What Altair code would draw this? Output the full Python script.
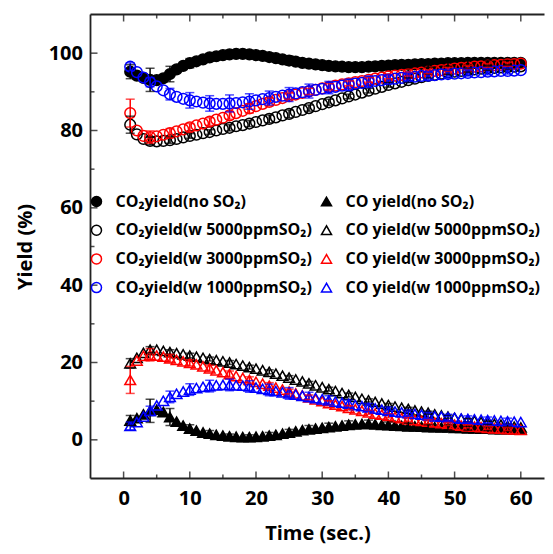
import altair as alt
import pandas as pd

# ---------------- data ----------------
time = list(range(1, 61))
err_time = list(range(1, 61, 3))  # 1, 4, 7, ..., 58

co2_names = ["CO₂yield(no SO₂)", "CO₂yield(w 5000ppmSO₂)", "CO₂yield(w 3000ppmSO₂)", "CO₂yield(w 1000ppmSO₂)"]
co_names = ["CO yield(no SO₂)", "CO yield(w 5000ppmSO₂)", "CO yield(w 3000ppmSO₂)", "CO yield(w 1000ppmSO₂)"]
names = co2_names + co_names  # legend is filled column by column
stroke_colors = ["black", "black", "#ff0000", "#0000ff"] * 2
fill_colors = ["black", "transparent", "transparent", "transparent"] * 2
shapes = ["circle"] * 4 + ["triangle-up"] * 4

co2_none = [95.2, 94.2, 93.6, 93.1, 93.0, 93.5, 94.6, 95.8, 96.7, 97.4, 97.9, 98.4, 98.9, 99.2, 99.5,
            99.7, 99.8, 99.8, 99.7, 99.5, 99.3, 99.0, 98.7, 98.4, 98.1, 97.8, 97.5, 97.3, 97.1, 96.9,
            96.7, 96.6, 96.5, 96.4, 96.4, 96.4, 96.5, 96.6, 96.7, 96.8, 96.9, 97.0, 97.0, 97.1, 97.2,
            97.2, 97.3, 97.3, 97.4, 97.4, 97.4, 97.5, 97.5, 97.5, 97.5, 97.5, 97.5, 97.5, 97.5, 97.5]
co2_5000 = [81.5, 79.0, 77.8, 77.3, 77.2, 77.3, 77.5, 77.8, 78.2, 78.6, 78.9, 79.3, 79.6, 80.0, 80.4,
            80.7, 81.1, 81.4, 81.8, 82.2, 82.6, 83.0, 83.4, 83.9, 84.3, 84.8, 85.3, 85.8, 86.3, 86.8,
            87.3, 87.8, 88.3, 88.8, 89.3, 89.8, 90.3, 90.8, 91.3, 91.8, 92.2, 92.6, 93.0, 93.4, 93.8,
            94.1, 94.4, 94.7, 95.0, 95.2, 95.4, 95.6, 95.8, 96.0, 96.1, 96.2, 96.3, 96.4, 96.5, 96.6]
co2_3000 = [84.5, 80.0, 78.6, 78.3, 78.5, 78.9, 79.3, 79.8, 80.3, 80.8, 81.3, 81.8, 82.3, 82.8, 83.3,
            83.9, 84.5, 85.1, 85.7, 86.3, 86.9, 87.4, 87.9, 88.4, 88.9, 89.3, 89.7, 90.1, 90.5, 90.9,
            91.3, 91.6, 91.9, 92.2, 92.5, 92.8, 93.1, 93.4, 93.7, 94.0, 94.2, 94.4, 94.6, 94.8, 95.0,
            95.2, 95.4, 95.6, 95.8, 96.0, 96.2, 96.3, 96.5, 96.6, 96.8, 96.9, 97.0, 97.1, 97.2, 97.3]
co2_1000 = [96.5, 95.1, 93.7, 92.5, 91.4, 90.4, 89.4, 88.7, 88.2, 87.8, 87.5, 87.2, 87.0, 86.9, 86.9,
            87.0, 87.1, 87.3, 87.5, 87.8, 88.1, 88.4, 88.7, 89.0, 89.3, 89.6, 89.9, 90.2, 90.5, 90.8,
            91.1, 91.3, 91.6, 91.8, 92.1, 92.3, 92.6, 92.8, 93.0, 93.2, 93.4, 93.6, 93.8, 93.9, 94.1,
            94.2, 94.3, 94.5, 94.6, 94.7, 94.8, 94.9, 95.0, 95.1, 95.2, 95.3, 95.4, 95.4, 95.5, 95.6]

co_none = [5.0, 5.6, 6.6, 7.5, 7.8, 7.2, 5.9, 4.7, 3.7, 2.9, 2.4, 1.9, 1.6, 1.3, 1.1,
           0.9, 0.8, 0.7, 0.7, 0.8, 0.9, 1.1, 1.3, 1.6, 1.9, 2.2, 2.5, 2.7, 2.9, 3.1,
           3.3, 3.5, 3.7, 3.9, 4.0, 4.1, 4.1, 4.0, 3.9, 3.8, 3.7, 3.6, 3.5, 3.5, 3.4,
           3.3, 3.3, 3.2, 3.2, 3.1, 3.1, 3.0, 3.0, 2.9, 2.9, 2.8, 2.8, 2.8, 2.7, 2.7]
co_5000 = [19.8, 21.2, 22.5, 23.3, 23.3, 23.0, 22.7, 22.4, 22.1, 21.8, 21.5, 21.2, 20.9, 20.6, 20.3,
           20.0, 19.6, 19.2, 18.8, 18.4, 18.0, 17.6, 17.1, 16.6, 16.1, 15.6, 15.1, 14.6, 14.1, 13.6,
           13.1, 12.6, 12.1, 11.6, 11.1, 10.6, 10.2, 9.8, 9.4, 9.0, 8.6, 8.3, 8.0, 7.6, 7.3,
           7.0, 6.6, 6.3, 6.0, 5.7, 5.4, 5.1, 4.9, 4.6, 4.4, 4.1, 3.9, 3.6, 3.4, 3.2]
co_3000 = [15.5, 20.5, 21.7, 22.0, 21.8, 21.5, 21.1, 20.7, 20.3, 19.9, 19.5, 19.0, 18.5, 18.0, 17.5,
           17.0, 16.5, 16.0, 15.5, 15.0, 14.5, 14.0, 13.5, 13.0, 12.5, 12.0, 11.5, 11.0, 10.5, 10.0,
           9.5, 9.1, 8.7, 8.3, 7.9, 7.5, 7.1, 6.8, 6.5, 6.2, 5.9, 5.6, 5.3, 5.1, 4.9,
           4.7, 4.5, 4.3, 4.1, 3.9, 3.7, 3.5, 3.4, 3.3, 3.1, 3.0, 2.9, 2.8, 2.7, 2.6]
co_1000 = [3.6, 4.6, 6.0, 7.5, 8.9, 10.1, 11.1, 11.9, 12.5, 13.0, 13.4, 13.7, 13.9, 14.1, 14.2,
           14.2, 14.1, 14.0, 13.8, 13.5, 13.2, 12.9, 12.6, 12.3, 12.0, 11.7, 11.4, 11.1, 10.8, 10.5,
           10.2, 9.9, 9.6, 9.3, 9.0, 8.7, 8.4, 8.1, 7.8, 7.5, 7.3, 7.1, 6.9, 6.7, 6.5,
           6.3, 6.1, 6.0, 5.8, 5.7, 5.5, 5.4, 5.3, 5.2, 5.1, 5.0, 4.9, 4.8, 4.7, 4.6]

# error half-widths at t = 1, 4, 7, ..., 58
err_co2_none = [1.8, 3.0, 2.0, 1.2, 1.0, 1.0, 1.0, 1.0, 1.2, 1.0, 1.0, 1.0, 1.0, 0.8, 0.8, 0.8, 0.8, 0.6, 0.6, 0.6]
err_co2_5000 = [2.2, 1.0, 0.8, 0.6, 0.6, 0.8, 0.8, 1.0, 1.0, 0.8, 0.8, 0.6, 0.6, 0.6, 0.6, 0.5, 0.5, 0.5, 0.5, 0.5]
err_co2_3000 = [3.6, 1.6, 1.2, 1.0, 1.0, 1.0, 1.2, 1.0, 0.8, 0.8, 0.8, 0.6, 0.6, 0.6, 0.5, 0.5, 0.5, 0.5, 0.5, 0.5]
err_co2_1000 = [1.0, 1.2, 1.5, 2.0, 2.0, 2.2, 2.0, 1.8, 1.8, 1.8, 1.6, 1.5, 1.5, 1.2, 1.0, 1.0, 1.0, 0.8, 0.8, 0.8]
err_co_none = [1.3, 3.0, 2.2, 1.0, 0.8, 0.6, 0.6, 0.8, 0.8, 1.0, 1.0, 1.0, 1.0, 0.8, 0.8, 0.6, 0.6, 0.5, 0.5, 0.5]
err_co_5000 = [1.2, 0.8, 0.6, 0.6, 0.5, 0.5, 0.5, 0.5, 0.5, 0.5, 0.5, 0.5, 0.4, 0.4, 0.4, 0.4, 0.4, 0.4, 0.4, 0.4]
err_co_3000 = [3.5, 1.6, 1.0, 0.8, 0.8, 0.8, 0.8, 0.8, 0.6, 0.6, 0.6, 0.5, 0.5, 0.5, 0.5, 0.5, 0.4, 0.4, 0.4, 0.4]
err_co_1000 = [1.0, 1.2, 1.5, 1.5, 1.5, 1.5, 1.5, 1.5, 1.5, 1.2, 1.2, 1.0, 1.0, 1.0, 0.8, 0.8, 0.8, 0.8, 0.8, 0.8]

x_ticks_major = [0, 10, 20, 30, 40, 50, 60]
x_ticks_minor = [5, 15, 25, 35, 45, 55]
y_ticks_major = [0, 20, 40, 60, 80, 100]
y_ticks_minor = [10, 30, 50, 70, 90]

# ---------------- tables ----------------
series_vals = {
    co2_names[0]: (co2_none, err_co2_none), co_names[0]: (co_none, err_co_none),
    co2_names[1]: (co2_5000, err_co2_5000), co_names[1]: (co_5000, err_co_5000),
    co2_names[2]: (co2_3000, err_co2_3000), co_names[2]: (co_3000, err_co_3000),
    co2_names[3]: (co2_1000, err_co2_1000), co_names[3]: (co_1000, err_co_1000),
}
draw_order = co2_names + co_names
color_of = dict(zip(names, stroke_colors))

rows, bars, caps = [], [], []
for name in draw_order:
    vals, errs = series_vals[name]
    for t, v in zip(time, vals):
        rows.append({"t": t, "v": v, "series": name})
    for t, e in zip(err_time, errs):
        v = vals[t - 1]
        bars.append({"t": t, "v": v - e, "v2": v + e, "col": color_of[name]})
        caps.append({"t": t, "v": v - e, "col": color_of[name]})
        caps.append({"t": t, "v": v + e, "col": color_of[name]})
df = pd.DataFrame(rows)
dbars = pd.DataFrame(bars)
dcaps = pd.DataFrame(caps)

FONT = "Open Sans"
W, H = 454, 464
X_MIN, Y_MIN, Y_MAX = -5, -10, 110
X_MAX = X_MIN + W / 6.62  # the right side of the frame lies just past the window
xs = alt.Scale(domain=[X_MIN, X_MAX], nice=False, zero=False, padding=0)
ys = alt.Scale(domain=[Y_MIN, Y_MAX], nice=False, zero=False, padding=0)
xaxis = alt.Axis(values=x_ticks_major, ticks=False, tickSize=0, domain=False, grid=False,
                 labelFont=FONT, labelFontWeight="bold", labelFontSize=20, labelColor="black",
                 labelPadding=10, title="Time (sec.)", titleFont=FONT, titleFontWeight="bold",
                 titleFontSize=20, titleColor="black", titleBaseline="middle", titleY=55)
yaxis = alt.Axis(values=y_ticks_major, ticks=False, tickSize=0, domain=False, grid=False,
                 labelFont=FONT, labelFontWeight="bold", labelFontSize=20, labelColor="black",
                 labelPadding=8, title="Yield (%)", titleFont=FONT, titleFontWeight="bold",
                 titleFontSize=20, titleColor="black", titleBaseline="middle", titleX=-65)
X = alt.X("t:Q", scale=xs, axis=xaxis)
Y = alt.Y("v:Q", scale=ys, axis=yaxis)

legend = alt.Legend(orient="none", legendX=-2, legendY=179, columns=2, columnPadding=6,
                    rowPadding=12.7, title=None, padding=0, symbolSize=100, symbolStrokeWidth=1.5,
                    labelFont=FONT, labelFontWeight="bold", labelFontSize=16, labelColor="black",
                    labelOffset=11, labelLimit=400)

points = alt.Chart(df).mark_point(size=115, strokeWidth=1.5, opacity=1).encode(
    x=X, y=Y,
    shape=alt.Shape("series:N", scale=alt.Scale(domain=names, range=shapes), legend=legend),
    stroke=alt.Stroke("series:N", scale=alt.Scale(domain=names, range=stroke_colors), legend=legend),
    fill=alt.Fill("series:N", scale=alt.Scale(domain=names, range=fill_colors), legend=legend),
)

errs = alt.Chart(dbars).mark_rule(strokeWidth=1.5).encode(
    x=X, y=Y, y2="v2:Q", color=alt.Color("col:N", scale=None))
errcaps = alt.Chart(dcaps).mark_tick(orient="horizontal", size=9, thickness=1.5).encode(
    x=X, y=Y, color=alt.Color("col:N", scale=None))


def xticks(vals, length, top):
    d = pd.DataFrame({"t": vals})
    return alt.Chart(d).mark_tick(orient="vertical", size=length, thickness=1.5, color="black",
                                  yOffset=(length / 2 if top else -length / 2)).encode(
        x=X, y=alt.datum(Y_MAX if top else Y_MIN))


def yticks(vals, length):
    d = pd.DataFrame({"v": vals})
    return alt.Chart(d).mark_tick(orient="horizontal", size=length, thickness=1.5, color="black",
                                  xOffset=length / 2).encode(y=Y, x=alt.datum(X_MIN))


tick_layers = [
    xticks(x_ticks_major, 7, False), xticks(x_ticks_minor, 4, False),
    xticks(x_ticks_major, 7, True), xticks(x_ticks_minor, 4, True),
    yticks(y_ticks_major, 7), yticks(y_ticks_minor, 4),
]

# frame: left, top and bottom sides (the right side lies past the window edge)
frame_style = dict(color="#222222", strokeWidth=1.8)
frame_left = alt.Chart().mark_rule(**frame_style).encode(
    x=alt.datum(X_MIN), y=alt.datum(Y_MIN), y2=alt.datum(Y_MAX))
frame_top = alt.Chart().mark_rule(**frame_style).encode(
    y=alt.datum(Y_MAX), x=alt.datum(X_MIN), x2=alt.datum(X_MAX))
frame_bottom = alt.Chart().mark_rule(**frame_style).encode(
    y=alt.datum(Y_MIN), x=alt.datum(X_MIN), x2=alt.datum(X_MAX))

chart = alt.layer(points, errs, errcaps, *tick_layers, frame_left, frame_top, frame_bottom).properties(
    width=W, height=H,
    autosize=alt.AutoSizeParams(type="none"),
    padding={"left": 82.5, "top": 6.5, "right": 0, "bottom": 66.5},
    background="white",
).configure_view(stroke=None)

chart.save("out.html", embed_options={"renderer": "svg", "actions": False})
